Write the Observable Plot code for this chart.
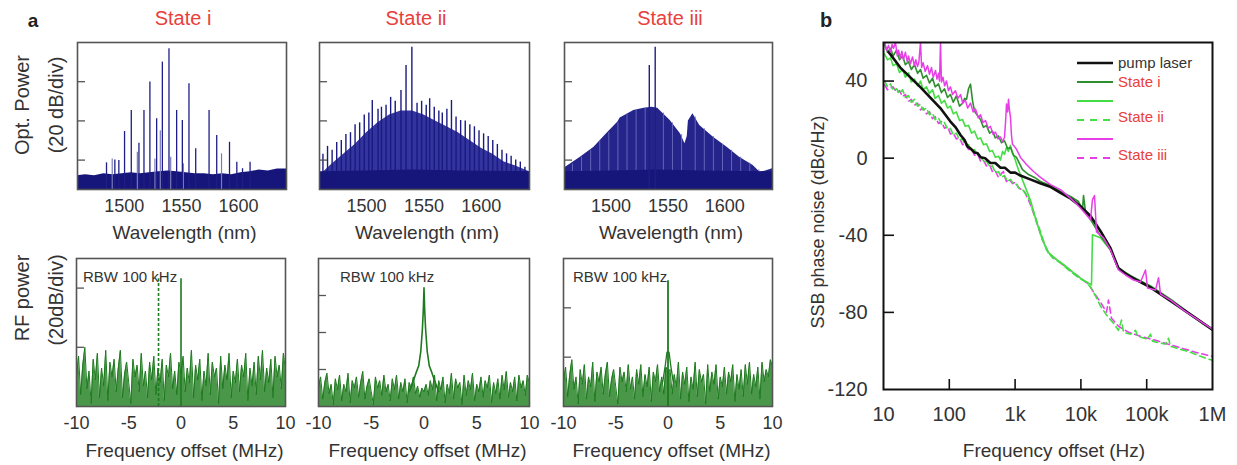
<!DOCTYPE html>
<html><head><meta charset="utf-8">
<script src="https://cdn.jsdelivr.net/npm/d3@7"></script>
<script src="https://cdn.jsdelivr.net/npm/@observablehq/plot@0.6"></script>
<style>
body{margin:0;background:#fff;}
#fig{position:relative;width:1237px;height:465px;font-family:"Liberation Sans",Arial,Helvetica,sans-serif;color:#333;overflow:hidden;background:#fff;}
.abs{position:absolute;white-space:nowrap;line-height:1;}
</style></head><body><div id="fig"></div><script>
// ---------------- DATA ----------------
const stateTitles = ["State i", "State ii", "State iii"];
const wlTicks = [1500, 1550, 1600];
const optYDomain = [-75, 0];
const optYTicks = [-60, -40, -20];
const wlDomain = [1459, 1642];

// State i comb lines [nm, dB]
const optLinesI = [[1484.4,-61.4],[1491.7,-59.9],[1495.2,-60.2],[1500.2,-45.4],[1506.1,-34.7],[1512.8,-51.4],[1517.2,-34.7],[1522.4,-20.2],[1528.3,-38.9],[1533.3,-10],[1539.1,-3.2],[1545.8,-34.7],[1550.8,-39.8],[1556.6,-21.1],[1562.5,-54.2],[1574.2,-34.7],[1580.9,-47.4],[1592.1,-50.9],[1598.5,-61.1],[1603.5,-64.4],[1610.1,-61.1]];
const optLinesIFaint = [[1489.4,-59.4],[1511.4,-56],[1526.8,-59.4],[1531.5,-45],[1540.6,-58.5],[1551.7,-61.9],[1585.1,-56.8]];
const optFloorI = [[1459,-68],[1466,-67.5],[1474,-68],[1482,-67],[1490,-67.5],[1498,-67],[1506,-66.5],[1514,-67],[1522,-66.5],[1530,-66],[1538,-65.5],[1546,-66],[1554,-66.5],[1562,-67],[1570,-67],[1578,-67.5],[1586,-67],[1594,-67.5],[1602,-66.5],[1610,-66],[1618,-65],[1626,-65.5],[1634,-64.5],[1642,-64.5]];

// State ii
const optLinesII = [[1462,-57],[1466,-53],[1470,-55],[1474,-51],[1478,-50],[1482,-47],[1486,-46],[1490,-42],[1494,-41],[1498,-37],[1502,-36],[1505,-29.6],[1510,-34],[1513,-33],[1517,-32],[1521,-28],[1525,-30],[1530,-24.5],[1534.4,-11.7],[1539.5,-2.4],[1544,-31],[1548,-30],[1552,-32],[1555,-28.7],[1559,-33],[1563,-35],[1566,-36],[1570,-34],[1574,-29.6],[1578,-38],[1582,-39.8],[1586,-40],[1590,-42],[1594,-43],[1598,-45],[1602,-46.6],[1606,-48],[1610,-50],[1614,-52],[1618,-55],[1622,-56.8],[1626,-58],[1630,-60],[1634,-61],[1638,-63.6]];
const optBodyII = [[1459,-68],[1470,-62],[1480,-57],[1490,-52],[1500,-46],[1510,-41],[1520,-37],[1530,-35],[1540,-35],[1550,-37],[1560,-40],[1570,-43],[1580,-46],[1590,-50],[1600,-54],[1610,-57],[1620,-61],[1630,-63],[1642,-66]];
const optFloorII = [[1459,-66],[1500,-65.5],[1540,-65],[1580,-65.5],[1642,-66]];

// State iii
const optEnvIII = [[1459,-64],[1473,-58.5],[1485,-53.4],[1496,-46.6],[1506,-40.5],[1508,-38.5],[1520,-34.7],[1529,-33.5],[1536,-33],[1541,-33.5],[1543,-34.7],[1552,-39.8],[1561,-46.6],[1565,-51.7],[1567,-48],[1568,-40],[1572,-36.4],[1578,-42.3],[1590,-48.3],[1602,-53.4],[1613,-58.5],[1625,-62.8],[1631,-66.2],[1636,-65.5],[1642,-64.4]];
const optCombIII = [[1466,-62],[1474,-58.5],[1482,-55],[1490,-50],[1498,-46],[1506,-41],[1514,-36.5],[1522,-34.5],[1530,-33.5],[1546,-36],[1554,-41],[1562,-47],[1574,-38],[1582,-44],[1590,-48],[1598,-52],[1606,-55],[1614,-58.5],[1622,-61.5],[1630,-65]];
const optSpikesIII = [[1533.6,-11.7],[1538.8,-2.4]];
const optFloorIII = [[1459,-66],[1500,-65.5],[1540,-65],[1580,-65.5],[1642,-66]];

// RF spectra
const rfTicks = [-10, -5, 0, 5, 10];
const rfFreq = [-10,-9.8,-9.6,-9.4,-9.2,-9,-8.8,-8.6,-8.4,-8.2,-8,-7.8,-7.6,-7.4,-7.2,-7,-6.8,-6.6,-6.4,-6.2,-6,-5.8,-5.6,-5.4,-5.2,-5,-4.8,-4.6,-4.4,-4.2,-4,-3.8,-3.6,-3.4,-3.2,-3,-2.8,-2.6,-2.4,-2.2,-2,-1.8,-1.6,-1.4,-1.2,-1,-0.8,-0.6,-0.4,-0.2,0,0.2,0.4,0.6,0.8,1,1.2,1.4,1.6,1.8,2,2.2,2.4,2.6,2.8,3,3.2,3.4,3.6,3.8,4,4.2,4.4,4.6,4.8,5,5.2,5.4,5.6,5.8,6,6.2,6.4,6.6,6.8,7,7.2,7.4,7.6,7.8,8,8.2,8.4,8.6,8.8,9,9.2,9.4,9.6,9.8,10];
const rfNoise1 = [-50,-43,-56,-46,-40,-54,-48,-59,-44,-51,-42,-57,-47,-53,-41,-58,-45,-50,-44,-55,-47,-41,-57,-49,-45,-52,-59,-44,-50,-46,-55,-42,-53,-48,-57,-45,-51,-43,-56,-47,-52,-44,-58,-46,-50,-42,-54,-48,-56,-45,-49,-43,-55,-47,-52,-41,-57,-46,-51,-44,-58,-48,-53,-42,-56,-45,-50,-47,-59,-43,-54,-46,-51,-42,-57,-48,-52,-44,-55,-46,-50,-42,-58,-47,-53,-45,-56,-43,-51,-41,-55,-47,-52,-44,-57,-43,-50,-46,-54,-42,-48];
const rfNoise2 = [-70,-64,-76,-67,-62,-73,-68,-79,-65,-71,-63,-77,-68,-72,-62,-78,-66,-70,-64,-75,-67,-61,-76,-69,-65,-72,-79,-64,-70,-66,-74,-63,-72,-68,-77,-65,-71,-63,-76,-67,-72,-65,-78,-67,-70,-64,-73,-69,-75,-70,-72,-68,-74,-66,-71,-63,-77,-66,-71,-64,-78,-68,-73,-62,-76,-65,-70,-67,-79,-63,-74,-66,-71,-62,-77,-68,-72,-64,-75,-66,-70,-63,-78,-67,-73,-65,-76,-63,-71,-61,-75,-67,-72,-64,-77,-63,-70,-66,-74,-63,-68];
const rfNoise3 = [-50,-44,-56,-47,-41,-53,-48,-59,-45,-51,-43,-57,-48,-52,-42,-58,-46,-50,-44,-55,-47,-42,-56,-49,-45,-52,-59,-44,-50,-46,-54,-43,-53,-48,-57,-45,-51,-43,-56,-47,-52,-44,-58,-46,-50,-43,-54,-48,-55,-44,-46,-45,-55,-47,-52,-42,-57,-46,-51,-44,-58,-48,-53,-42,-56,-45,-50,-47,-59,-43,-54,-46,-51,-43,-57,-48,-52,-44,-55,-46,-50,-43,-58,-47,-53,-45,-56,-43,-51,-42,-55,-47,-52,-44,-57,-42,-50,-45,-48,-41,-44];
const rfYDomain1 = [-60, -10], rfYTicks1 = [-40, -20];
const rfYDomain2 = [-80, 0],   rfYTicks2 = [-60, -40, -20];
const rfYDomain3 = [-60, 0],   rfYTicks3 = [-40, -20];
const rfLines1 = [{f: 0, top: -16.8, dashed: false}, {f: -2.15, top: -16.8, dashed: true}];
const rfPeak2 = [[-1.4,-72],[-1.0,-66],[-0.7,-61],[-0.5,-58],[-0.3,-50],[-0.15,-38],[-0.06,-27],[0,-15.8],[0.06,-27],[0.15,-38],[0.3,-50],[0.5,-58],[0.7,-61],[1.0,-66],[1.4,-72]];
const rfLines3 = [{f: 0, top: -9}];
const rfBase3 = [[-0.5,-50],[-0.25,-43],[-0.1,-38],[0.1,-38],[0.25,-43],[0.5,-50]];
const rbwText = "RBW 100 kHz";

// Phase noise [Hz, dBc/Hz]
const pnXTicks = [10, 100, 1000, 10000, 100000, 1000000];
const pnXTickLabels = ["10", "100", "1k", "10k", "100k", "1M"];
const pnYTicks = [-120, -80, -40, 0, 40];
const pnYDomain = [-120, 60];
const pumpLaser = [[12,55],[18,47],[36,37],[73,26],[104,19],[125,16],[148,12],[170,9.5],[190,6],[210,5],[240,3],[270,2.5],[300,0.5],[350,0],[420,-2.5],[500,-2.5],[600,-5],[700,-5],[850,-7.5],[1000,-7.5],[1200,-9],[1700,-11],[2400,-13],[3500,-15],[4900,-18],[7000,-21],[9900,-25],[14000,-30],[20000,-38],[28000,-46.5],[37000,-57],[48000,-60],[68000,-63],[114000,-67],[230000,-74],[460000,-81],[1e6,-89]];
const state1Solid = [[10.4,59],[11.5,55],[12.8,57],[14,53],[15.8,56],[17.5,51],[19.5,53],[21.5,48.5],[24,50],[26.5,46],[29.6,48.5],[33,44],[36.5,46],[40,41.5],[45,43],[50,39],[55.6,41.5],[61,37],[68.5,38.5],[76,34],[84.5,36],[94,31.5],[104,33],[115,29],[128,32.3],[143,27],[159,28.5],[171,31],[183,30.6],[196,36],[210,38.4],[225,30],[242,24.3],[270,22],[298,20],[330,16],[367,17],[410,13],[453,14],[500,10.5],[559,11.5],[620,8],[690,9],[770,5],[851,5.5],[950,1.5],[1050,0.4],[1296,-5.9],[1600,-8.5],[1972,-10],[2432,-12.1],[3451,-14.2],[4898,-17.3],[6950,-19.9],[9200,-22.5],[10570,-26.7],[10960,-19.4],[11750,-27.7],[13990,-31.9],[19860,-40.3],[28180,-47.6],[37240,-56.9],[56750,-61],[114300,-66.3],[230100,-73.1],[463500,-80.9],[1e6,-88.8]];
const state2Solid = [[10.4,54],[11.5,51],[12.8,52],[14,48],[15.8,49],[17.5,44.5],[19.5,46],[21.5,42],[24,44.2],[26.5,39.5],[29.6,41],[33,37.5],[36.5,40],[40,35.5],[45,37],[50,33.5],[55.6,35.5],[61,31],[68.5,32.5],[76,28.5],[84.5,30],[94,26],[104,27],[115,23],[128,24],[143,19.5],[159,20],[175,16.5],[196,17],[218,13],[241,14],[270,10],[298,10.5],[330,7],[367,7.5],[410,3.5],[453,4],[500,0.5],[559,1],[600,-1],[644,3.5],[690,2],[740,5.6],[790,3.5],[851,6.6],[910,2.5],[979,0.4],[1050,-3],[1127,-6],[1391,-14],[1714,-22],[2115,-33],[2608,-42.4],[3219,-49],[4257,-52.5],[5633,-55.5],[7450,-59],[9862,-62.2],[13040,-64.8],[14480,-65.8],[15000,-39.7],[19860,-41.3],[28180,-47.6],[37240,-56.9],[56750,-61.6],[114300,-66.8],[230100,-73.6],[463500,-81.4],[1e6,-89.3]];
const state2Dashed = [[10.4,40],[11.5,37],[12.8,38.5],[14,35],[15.8,36],[17.5,33.5],[19.5,35.5],[21.5,31.5],[24,32.5],[26.5,29],[29.6,30.5],[33,27],[36.5,28],[40,25],[45,26],[50,22.5],[55.6,23.5],[61,20],[68.5,21],[76,17.5],[84.5,18.5],[94,15],[104,15.5],[115,12],[128,13],[143,9.5],[159,10],[175,6.5],[196,7],[218,4],[241,4.5],[270,1.5],[298,1],[330,-2],[367,-1.5],[410,-4.5],[453,-4],[500,-7.5],[559,-7],[620,-10],[690,-9],[770,-12],[851,-11],[950,-13.5],[1050,-13.5],[1170,-16],[1296,-16.3],[1600,-20.5],[1972,-29.3],[2432,-38.2],[3000,-47.6],[3700,-51.7],[4898,-54.3],[6486,-58],[8877,-61.6],[11750,-64.2],[13990,-66.8],[16670,-71.5],[19860,-76.7],[24490,-81.4],[31270,-85.6],[37240,-89.3],[41400,-84],[44380,-90.3],[56750,-91.3],[67610,-89.3],[72460,-92.4],[102800,-93.9],[114300,-91.3],[122500,-95],[193100,-96.5],[214400,-93.4],[230100,-97.6],[463500,-100.7],[657700,-102.8],[1e6,-104.9]];
const state3Solid = [[10.4,60],[11.2,56],[11.9,58.5],[12.8,55],[13.5,59],[14.2,57],[15.2,60],[16.2,53],[16.9,56],[18,52],[19,55.5],[20.1,51],[21.5,55],[23,50],[24,53],[25.7,49],[27.6,52.5],[29.5,48],[31,51],[32.9,47.5],[34.5,50],[36.5,60],[38,47],[40,49.5],[43,45],[46.7,48],[50,43.5],[53.6,47],[57,42],[61.7,45.5],[65,41],[68.5,44],[71,40],[73.5,60],[76,39.5],[80,42],[85,37.5],[90.6,40],[97,35],[104,37],[112,33],[124,35],[135,31],[148,33],[160,28.5],[176,30],[190,26],[210,28.6],[230,24],[250,25.5],[275,21],[298,22.5],[325,18.5],[355,19.5],[390,15.5],[423,16.5],[460,12.5],[504,13.5],[550,10],[600,11],[650,8.5],[690,10.8],[720,20],[740,28.1],[770,24],[794,30.6],[820,25],[851,21.2],[880,12],[912,7.2],[980,6],[1050,4.6],[1208,0.4],[1489,-3.3],[1905,-6.9],[2432,-10],[3451,-13.7],[4898,-16.3],[6250,-19.4],[8279,-23.1],[10960,-27.7],[13990,-31.9],[15000,-21.5],[16100,-19.4],[17260,-38.2],[22060,-41.3],[28180,-47.6],[37240,-58],[47640,-60.6],[63000,-63.2],[80540,-64.2],[95900,-58],[103000,-67.4],[136200,-68.4],[151300,-62],[162200,-70.5],[230100,-73.6],[362600,-78.8],[552000,-83],[1e6,-88.7]];
const state3Dashed = [[10.4,38],[11.5,35.5],[12.8,36.5],[14,37],[15.8,34],[17.5,35],[19.5,32],[21.5,33],[24,29.5],[26.5,30.5],[29.6,27.5],[33,28.5],[36.5,25],[40,26],[45,23],[50,24],[55.6,20.5],[61,21.5],[68.5,18],[76,19],[84.5,15.5],[94,16.5],[104,12.5],[115,13],[128,10],[143,10.5],[159,7],[175,7.5],[196,4.5],[218,5],[241,1.5],[270,2],[298,-1.5],[330,-1],[367,-4],[410,-3.5],[453,-7],[500,-6.5],[559,-10],[620,-8],[666,-6.9],[700,-10],[740,-12.1],[820,-11],[912,-13.2],[1000,-12.5],[1127,-15.2],[1391,-17.3],[1714,-24.1],[2115,-33],[2608,-42.4],[3219,-49.2],[4257,-52.8],[5633,-55.9],[7450,-59],[9862,-62.2],[13040,-65.3],[16670,-71],[19860,-74.7],[24490,-79.9],[26250,-73.6],[29170,-83],[37240,-87.2],[52850,-90.3],[80540,-92.4],[136200,-94.5],[274000,-97.6],[552000,-100.7],[1e6,-102.8]];

const legendItems = [
  {label: "pump laser", color: "#111111", dash: null, width: 2.5, text: "#333333"},
  {label: "State i", color: "#2f8f2f", dash: null, width: 2, text: "#e8403c"},
  {label: "", color: "#44dd44", dash: null, width: 2, text: "#e8403c"},
  {label: "State ii", color: "#44dd44", dash: "7,6", width: 2, text: "#e8403c"},
  {label: "", color: "#e83ee8", dash: null, width: 2, text: "#e8403c"},
  {label: "State iii", color: "#e83ee8", dash: "7,6", width: 2, text: "#e8403c"}
];

// ---------------- RENDER ----------------
const FONT = '"Liberation Sans", Arial, Helvetica, sans-serif';
const fig = document.getElementById("fig");
const RED = "#e8403c";

function place(el, left, top) {
  el.style.position = "absolute";
  el.style.left = left + "px";
  el.style.top = top + "px";
  fig.appendChild(el);
}
function label(txt, x, y, {size = 19, color = "#333", weight = "normal", rotate = 0} = {}) {
  const d = document.createElement("div");
  d.className = "abs";
  d.textContent = txt;
  Object.assign(d.style, {left: x + "px", top: y + "px", fontSize: size + "px", color, fontWeight: weight,
    transform: `translate(-50%,-50%) rotate(${rotate}deg)`});
  fig.appendChild(d);
}
function textAt(txt, x, y, size, color) {
  const d = document.createElement("div");
  d.className = "abs";
  d.textContent = txt;
  Object.assign(d.style, {left: x + "px", top: (y - size / 2) + "px", fontSize: size + "px", color});
  fig.appendChild(d);
}
function panel({left, right, top, bottom, mL = 22, mR = 22, mT = 4, mB = 34, fontSize = "18px", ...opts}) {
  const w = right - left, h = bottom - top;
  const svg = Plot.plot({
    width: w + mL + mR, height: h + mT + mB,
    marginLeft: mL, marginRight: mR, marginTop: mT, marginBottom: mB,
    style: {fontFamily: FONT, fontSize, color: "#333", background: "transparent", overflow: "visible"},
    ...opts
  });
  place(svg, left - mL, top - mT);
}
const P = d => d[0], V = d => d[1];

// ---- Top optical spectra ----
const topFrames = [{left: 77, right: 286}, {left: 319, right: 529}, {left: 564, right: 772}];
const TOP = 42, BOT = 189;
const OPT_BASE = optYDomain[0];
const NAVY = "#15157a";

function optPanel(fr, marks) {
  const w = fr.right - fr.left;
  panel({
    left: fr.left, right: fr.right, top: TOP, bottom: BOT,
    x: {domain: wlDomain, ticks: wlTicks, tickSize: 0, tickPadding: 10, label: null, tickFormat: d => String(d)},
    y: {domain: optYDomain, axis: null},
    marks: [
      ...marks,
      Plot.tickY(optYTicks, {y: d => d, insetRight: w - 8, stroke: "#555", strokeWidth: 1.3}),
      Plot.frame({stroke: "#555", strokeWidth: 1.6})
    ]
  });
}
optPanel(topFrames[0], [
  Plot.areaY(optFloorI, {x: P, y1: OPT_BASE, y2: V, fill: NAVY}),
  Plot.ruleX(optLinesIFaint, {x: P, y1: OPT_BASE, y2: V, stroke: "#7a7abb", strokeWidth: 1.2}),
  Plot.ruleX(optLinesI, {x: P, y1: OPT_BASE, y2: V, stroke: "#1e1e86", strokeWidth: 1.3})
]);
optPanel(topFrames[1], [
  Plot.areaY(optBodyII, {x: P, y1: OPT_BASE, y2: V, fill: "#34349e"}),
  Plot.ruleX(optLinesII, {x: P, y1: OPT_BASE, y2: V, stroke: "#1a1a80", strokeWidth: 1.4}),
  Plot.areaY(optFloorII, {x: P, y1: OPT_BASE, y2: V, fill: NAVY})
]);
optPanel(topFrames[2], [
  Plot.areaY(optEnvIII, {x: P, y1: OPT_BASE, y2: V, fill: "#24248a"}),
  Plot.ruleX(optCombIII, {x: P, y1: OPT_BASE, y2: V, stroke: "#6b6bc0", strokeWidth: 0.9}),
  Plot.areaY(optFloorIII, {x: P, y1: OPT_BASE, y2: V, fill: NAVY}),
  Plot.ruleX(optSpikesIII, {x: P, y1: OPT_BASE, y2: V, stroke: "#1e1e86", strokeWidth: 1.4})
]);

// ---- RF spectra ----
const rfFrames = [{left: 76, right: 285}, {left: 318, right: 529}, {left: 563, right: 772}];
const RTOP = 258, RBOT = 406;
const GREEN = "#1e7a1e";
const rows = arr => rfFreq.map((f, i) => ({f, v: arr[i]}));

function rfPanel(fr, yDomain, yTicks, noise, marks) {
  const w = fr.right - fr.left;
  panel({
    left: fr.left, right: fr.right, top: RTOP, bottom: RBOT,
    x: {domain: [-10, 10], ticks: rfTicks, tickSize: 0, tickPadding: 10, label: null, tickFormat: d => String(d)},
    y: {domain: yDomain, axis: null},
    marks: [
      Plot.areaY(rows(noise), {x: "f", y1: yDomain[0], y2: "v", fill: "#2a852a", fillOpacity: 0.85}),
      Plot.lineY(rows(noise), {x: "f", y: "v", stroke: GREEN, strokeWidth: 1}),
      ...marks,
      Plot.tickY(yTicks, {y: d => d, insetRight: w - 8, stroke: "#555", strokeWidth: 1.3}),
      Plot.frame({stroke: "#555", strokeWidth: 1.6})
    ]
  });
}
rfPanel(rfFrames[0], rfYDomain1, rfYTicks1, rfNoise1, [
  Plot.ruleX(rfLines1.filter(d => !d.dashed), {x: "f", y1: rfYDomain1[0], y2: "top", stroke: GREEN, strokeWidth: 1.6}),
  Plot.ruleX(rfLines1.filter(d => d.dashed), {x: "f", y1: rfYDomain1[0], y2: "top", stroke: GREEN, strokeWidth: 1.6, strokeDasharray: "3,2"})
]);
rfPanel(rfFrames[1], rfYDomain2, rfYTicks2, rfNoise2, [
  Plot.line(rfPeak2, {x: P, y: V, stroke: GREEN, strokeWidth: 1.6})
]);
rfPanel(rfFrames[2], rfYDomain3, rfYTicks3, rfNoise3, [
  Plot.line(rfBase3, {x: P, y: V, stroke: GREEN, strokeWidth: 1.3}),
  Plot.ruleX(rfLines3, {x: "f", y1: rfYDomain3[0], y2: "top", stroke: GREEN, strokeWidth: 1.8})
]);

// ---- Phase noise ----
const PL = 883, PR = 1212, PT = 42, PB = 389;
const lineMark = (data, stroke, extra = {}) =>
  Plot.line(data, {x: P, y: V, stroke, strokeWidth: 1.6, clip: true, ...extra});
panel({
  left: PL, right: PR, top: PT, bottom: PB, mL: 53, mR: 15, mT: 12, mB: 45, fontSize: "20px",
  x: {type: "log", domain: [10, 1e6], ticks: pnXTicks, tickSize: 0, tickPadding: 17, label: null,
      tickFormat: d => pnXTickLabels[pnXTicks.indexOf(d)]},
  y: {domain: pnYDomain, ticks: pnYTicks, tickSize: 0, tickPadding: 16, label: null, tickFormat: d => String(d)},
  marks: [
    lineMark(state3Dashed, "#e83ee8", {strokeDasharray: "6,4"}),
    lineMark(state2Dashed, "#44dd44", {strokeDasharray: "6,4"}),
    lineMark(state2Solid, "#44dd44"),
    lineMark(state1Solid, "#2f8f2f"),
    lineMark(pumpLaser, "#111111", {strokeWidth: 2.6}),
    lineMark(state3Solid, "#e83ee8", {strokeWidth: 1.5}),
    Plot.tickX(pnXTicks.slice(1, -1), {x: d => d, insetTop: (PB - PT) - 10, stroke: "#111", strokeWidth: 1.6}),
    Plot.tickY(pnYTicks.slice(1), {y: d => d, insetRight: (PR - PL) - 11, stroke: "#111", strokeWidth: 1.6}),
    Plot.frame({stroke: "#111", strokeWidth: 2})
  ]
});

// legend
const lg = d3.create("svg").attr("width", 145).attr("height", 120);
legendItems.forEach((d, i) => {
  const y = 13 + i * 19;
  lg.append("line").attr("x1", 7).attr("x2", 43).attr("y1", y).attr("y2", y)
    .attr("stroke", d.color).attr("stroke-width", d.width).attr("stroke-dasharray", d.dash);
  if (d.label) lg.append("text").attr("x", 48).attr("y", y - (i > 2 ? 3 : 0)).attr("dy", "0.35em")
    .attr("font-family", FONT).attr("font-size", 15).attr("fill", d.text).text(d.label);
});
place(lg.node(), 1070, 50);

// ---- Text labels ----
label("a", 33, 20, {size: 19, weight: "bold", color: "#222"});
label("b", 826, 20, {size: 20, weight: "bold", color: "#222"});
const titleX = [183, 416, 670];
stateTitles.forEach((t, i) => label(t, titleX[i], 18, {size: 20, color: RED}));
topFrames.forEach(fr => label("Wavelength (nm)", (fr.left + fr.right) / 2 + 3, 232, {size: 19}));
rfFrames.forEach(fr => label("Frequency offset (MHz)", (fr.left + fr.right) / 2 + 4, 450, {size: 19}));
label("Opt. Power", 22, 105, {size: 20, rotate: -90});
label("(20 dB/div)", 56, 105, {size: 20, rotate: -90});
label("RF power", 22, 298, {size: 20, rotate: -90});
label("(20dB/div)", 56, 300, {size: 20, rotate: -90});
label("SSB phase noise (dBc/Hz)", 818, 222, {size: 18, rotate: -90});
label("Frequency offset (Hz)", 1054, 450, {size: 19});
const rbwX = [83, 340, 573];
rbwX.forEach(x => textAt(rbwText, x, 276, 15, "#333"));
</script></body></html>
